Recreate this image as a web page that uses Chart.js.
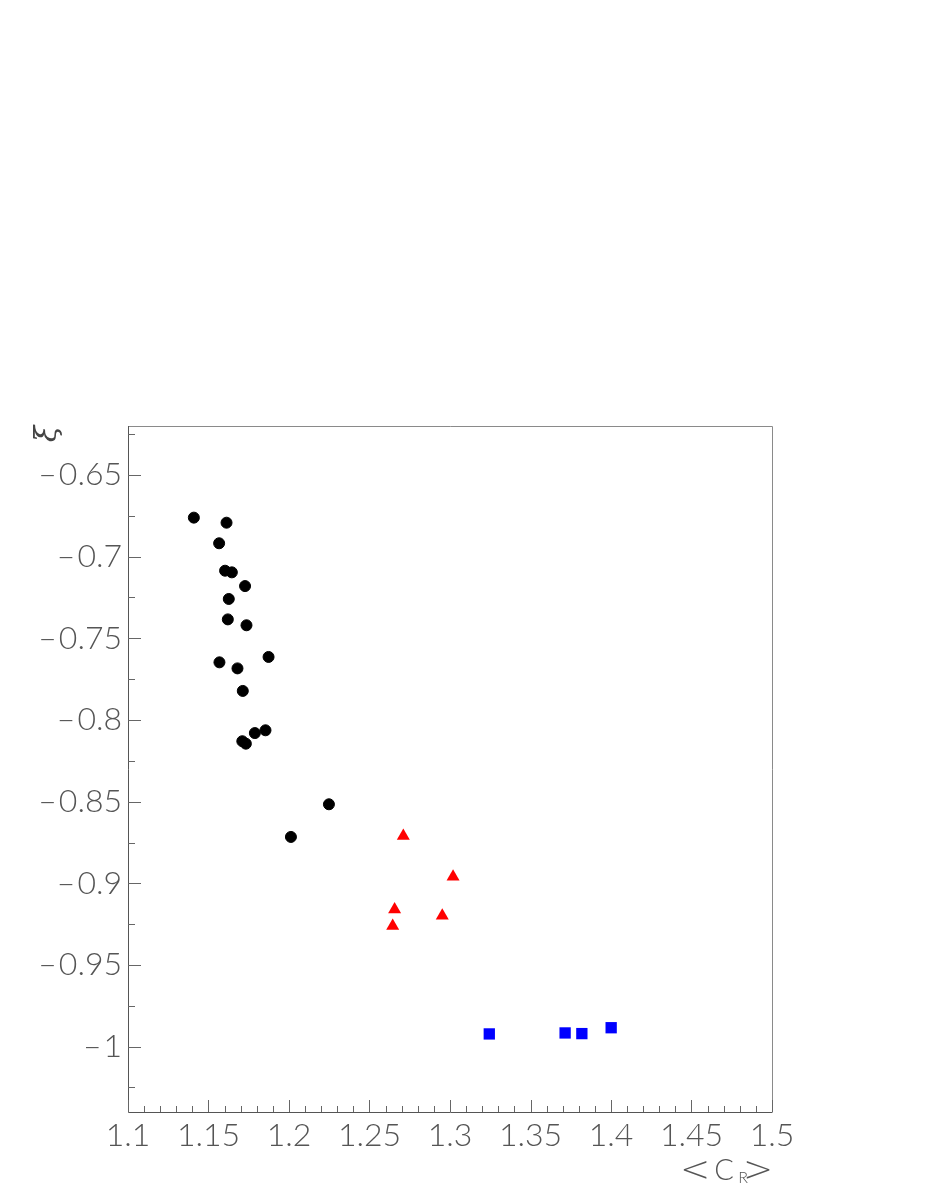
<!DOCTYPE html>
<html>
<head>
<meta charset="utf-8">
<script src="https://cdn.jsdelivr.net/npm/chart.js@4"></script>
<style>
  html, body { margin: 0; padding: 0; background: #fff; }
  canvas { display: block; }
</style>
</head>
<body>
<canvas id="scatter" width="926" height="1199"></canvas>
<script>
// black circles
const blackX = [1.1409, 1.1612, 1.1566, 1.1603, 1.1645, 1.1727, 1.1626, 1.1620, 1.1736, 1.1873,
                1.1568, 1.1680, 1.1713, 1.1854, 1.1788, 1.1710, 1.1732, 1.2248, 1.2012];
const blackY = [-0.6761, -0.6792, -0.6918, -0.7086, -0.7096, -0.7180, -0.7259, -0.7384, -0.7420, -0.7614,
                -0.7647, -0.7684, -0.7822, -0.8063, -0.8080, -0.8130, -0.8145, -0.8516, -0.8716];
// red triangles
const redX = [1.2710, 1.3019, 1.2656, 1.2952, 1.2644];
const redY = [-0.8710, -0.8960, -0.9160, -0.9198, -0.9261];
// blue squares
const blueX = [1.3244, 1.3715, 1.3819, 1.4001];
const blueY = [-0.9922, -0.9916, -0.9920, -0.9884];

const xTicks = [1.1, 1.15, 1.2, 1.25, 1.3, 1.35, 1.4, 1.45, 1.5];
const yTicks = [-1.0, -0.95, -0.9, -0.85, -0.8, -0.75, -0.7, -0.65];
const xMinorStep = 0.01;
const yMinorStep = 0.025;

const pts = (xs, ys) => xs.map((x, i) => ({x: x, y: ys[i]}));
const fmt = v => {
  let s = v.toFixed(2).replace(/0+$/, '').replace(/\.$/, '');
  return s.replace('-', '\u2013\u200A');
};

const labelFont = {family: 'Lato, "Liberation Sans", sans-serif', size: 32, weight: 300};

// frame, inside ticks, axis titles
const framePlugin = {
  id: 'frame',
  afterDraw(chart) {
    const {ctx, chartArea: a, scales: {x, y}} = chart;
    ctx.save();
    ctx.lineWidth = 1;
    // top and right of the frame
    ctx.strokeStyle = '#8a8a8a';
    ctx.beginPath();
    ctx.moveTo(a.left, a.top + 0.5);
    ctx.lineTo(a.right + 0.5, a.top + 0.5);
    ctx.lineTo(a.right + 0.5, a.bottom);
    ctx.stroke();
    // axes
    ctx.strokeStyle = '#555';
    ctx.beginPath();
    ctx.moveTo(a.left + 0.5, a.top);
    ctx.lineTo(a.left + 0.5, a.bottom + 0.5);
    ctx.lineTo(a.right + 0.5, a.bottom + 0.5);
    ctx.stroke();

    ctx.strokeStyle = '#666';
    ctx.beginPath();
    for (let v = x.min; v <= x.max + 1e-9; v += xMinorStep) {
      const r = Math.round(v * 100) / 100;
      const major = Math.abs(r * 20 - Math.round(r * 20)) < 1e-6;
      const px = Math.round(x.getPixelForValue(r)) + 0.5;
      ctx.moveTo(px, a.bottom);
      ctx.lineTo(px, a.bottom - (major ? 12 : 6));
    }
    for (let v = -1.025; v <= y.max + 1e-9; v += yMinorStep) {
      const r = Math.round(v * 1000) / 1000;
      const major = Math.abs(r * 20 - Math.round(r * 20)) < 1e-6;
      const py = Math.round(y.getPixelForValue(r)) + 0.5;
      ctx.moveTo(a.left, py);
      ctx.lineTo(a.left + (major ? 13 : 7), py);
    }
    ctx.stroke();

    // y title
    ctx.fillStyle = '#444';
    ctx.font = 'italic 200 30px "DejaVu Serif", serif';
    ctx.translate(48, 434);
    ctx.rotate(-Math.PI / 2);
    ctx.textAlign = 'center';
    ctx.textBaseline = 'middle';
    ctx.fillText('\u03BE', 0, 0);
    ctx.setTransform(1, 0, 0, 1, 0, 0);

    // x title  <C_R>
    ctx.fillStyle = '#555';
    ctx.textAlign = 'center';
    ctx.font = '200 36px "DejaVu Sans", sans-serif';
    ctx.textBaseline = 'middle';
    ctx.fillText('<', 695, 1172);
    ctx.fillText('>', 758, 1172);
    ctx.textBaseline = 'alphabetic';
    ctx.font = '300 29px Lato, "Liberation Sans", sans-serif';
    ctx.fillText('C', 724, 1180);
    ctx.font = '300 16px Lato, "Liberation Sans", sans-serif';
    ctx.fillText('R', 743, 1183);
    ctx.restore();
  }
};

new Chart(document.getElementById('scatter'), {
  type: 'scatter',
  data: {
    datasets: [
      {
        label: 'black',
        data: pts(blackX, blackY),
        pointStyle: 'circle',
        pointRadius: 5.5,
        pointBorderWidth: 1,
        backgroundColor: '#000',
        borderColor: '#000'
      },
      {
        label: 'red',
        data: pts(redX, redY),
        pointStyle: 'triangle',
        pointRadius: 7.5,
        pointBorderWidth: 0,
        backgroundColor: '#ff0000',
        borderColor: '#ff0000'
      },
      {
        label: 'blue',
        data: pts(blueX, blueY),
        pointStyle: 'rect',
        pointRadius: 8,
        pointBorderWidth: 0,
        backgroundColor: '#0000ff',
        borderColor: '#0000ff'
      }
    ]
  },
  options: {
    responsive: false,
    animation: false,
    devicePixelRatio: 1,
    layout: {padding: {top: 426, right: 154, left: 0, bottom: 0}},
    plugins: {
      legend: {display: false},
      tooltip: {enabled: false}
    },
    scales: {
      x: {
        type: 'linear',
        min: 1.1,
        max: 1.5,
        afterBuildTicks: s => { s.ticks = xTicks.map(v => ({value: v})); },
        afterFit: s => { s.height = 87; },
        grid: {display: false, drawTicks: false},
        border: {display: false},
        ticks: {
          padding: 4,
          color: '#555',
          font: labelFont,
          maxRotation: 0,
          callback: v => fmt(v)
        }
      },
      y: {
        type: 'linear',
        min: -1.04,
        max: -0.62,
        afterBuildTicks: s => { s.ticks = yTicks.map(v => ({value: v})); },
        afterFit: s => { s.width = 128; },
        grid: {display: false, drawTicks: false},
        border: {display: false},
        ticks: {
          padding: 6,
          color: '#555',
          font: labelFont,
          callback: v => fmt(v)
        }
      }
    }
  },
  plugins: [framePlugin]
});
</script>
</body>
</html>
